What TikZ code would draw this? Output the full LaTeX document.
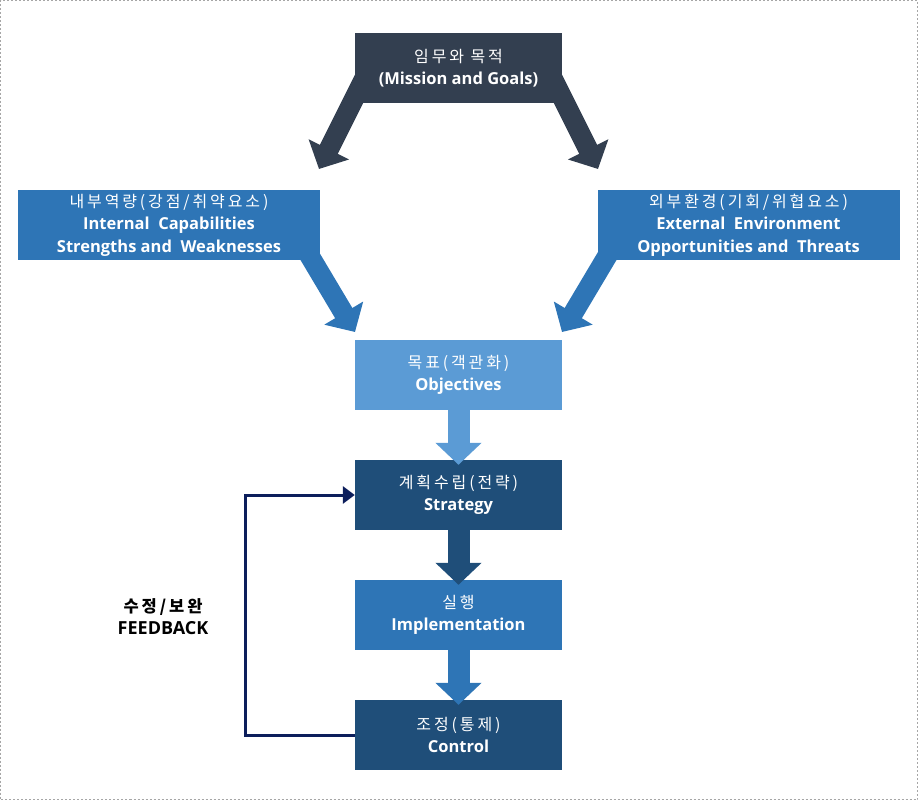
\documentclass[tikz,border=0pt]{standalone}
\usepackage{fontspec}
\setmainfont{Open Sans}
\newfontfamily\kr[LetterSpace=18]{Noto Sans CJK KR}
\usetikzlibrary{arrows.meta,backgrounds}

\definecolor{slate}{HTML}{333F50}
\definecolor{midblue}{HTML}{2E75B6}
\definecolor{lightblue}{HTML}{5B9BD5}
\definecolor{darkblue}{HTML}{1F4E79}
\definecolor{navy}{HTML}{0C1E5B}

\begin{document}
\begin{tikzpicture}[x=1pt,y=-1pt,
    box/.style={minimum width=207pt, minimum height=70pt, inner sep=0pt,
      align=center, text=white, font=\fontsize{16.5}{22.5}\selectfont\bfseries},
    widebox/.style={box, minimum width=302pt},
    fatarrow/.style={line width=20pt, -{Triangle[length=22pt,width=44pt]}},
    downarrow/.style={line width=22pt, -{Triangle[length=22pt,width=45pt]}}]
    \useasboundingbox (0,0) rectangle (918,800);
    \draw[gray!70, dash pattern=on 2pt off 2pt] (0.5,0.5) rectangle (917.5,799.5);

    % Caselle
    \node[box, fill=slate] (mission) at (458.5,68) {{\kr\mdseries\fontsize{16}{22.5}\selectfont 임무와 목적}\\(Mission and Goals)};
    \node[widebox, fill=midblue] (internal) at (169,225) {{\kr\mdseries\fontsize{16}{22.5}\selectfont 내부역량(강점/취약요소)}\\Internal\ \ Capabilities\\Strengths and\ \ Weaknesses};
    \node[widebox, fill=midblue] (external) at (748.5,225) {{\kr\mdseries\fontsize{16}{22.5}\selectfont 외부환경(기회/위협요소)}\\External\ \ Environment\\Opportunities and\ \ Threats};
    \node[box, fill=lightblue] (obj) at (458.5,375) {{\kr\mdseries\fontsize{16}{22.5}\selectfont 목표(객관화)}\\Objectives};
    \node[box, fill=darkblue] (strat) at (458.5,495) {{\kr\mdseries\fontsize{16}{22.5}\selectfont 계획수립(전략)}\\Strategy};
    \node[box, fill=midblue] (impl) at (458.5,615) {{\kr\mdseries\fontsize{16}{22.5}\selectfont 실행}\\Implementation};
    \node[box, fill=darkblue] (ctrl) at (458.5,735) {{\kr\mdseries\fontsize{16}{22.5}\selectfont 조정(통제)}\\Control};

    % Frecce oblique
    \coordinate (mleft) at (369,69);
    \coordinate (mright) at (548,69);
    \coordinate (tipleft) at (319,169);
    \coordinate (tipright) at (598,169);
    \coordinate (ileft) at (302,243);
    \coordinate (iright) at (615,243);
    \coordinate (tipin) at (355,332);
    \coordinate (tipex) at (562,332);
    \begin{scope}[on background layer]
        \draw[fatarrow, slate] (mleft) -- (tipleft);
        \draw[fatarrow, slate] (mright) -- (tipright);
        \draw[fatarrow, midblue] (ileft) -- (tipin);
        \draw[fatarrow, midblue] (iright) -- (tipex);
    \end{scope}

    % Frecce verticali
    \draw[downarrow, lightblue] (obj.south) -- ([yshift=-5pt]strat.north);
    \draw[downarrow, darkblue] (strat.south) -- ([yshift=-5pt]impl.north);
    \draw[downarrow, midblue] (impl.south) -- ([yshift=-5pt]ctrl.north);

    % Feedback
    \draw[navy, line width=3pt, -{Triangle[length=12pt,width=17pt]}]
        (ctrl.west) -- ++(-109,0) |- (strat.west);
    \node[align=center, font=\fontsize{18}{22}\selectfont\bfseries] (fb) at (163,617)
        {{\kr\fontsize{16.5}{22}\selectfont 수정/보완}\\FEEDBACK};
\end{tikzpicture}
\end{document}
